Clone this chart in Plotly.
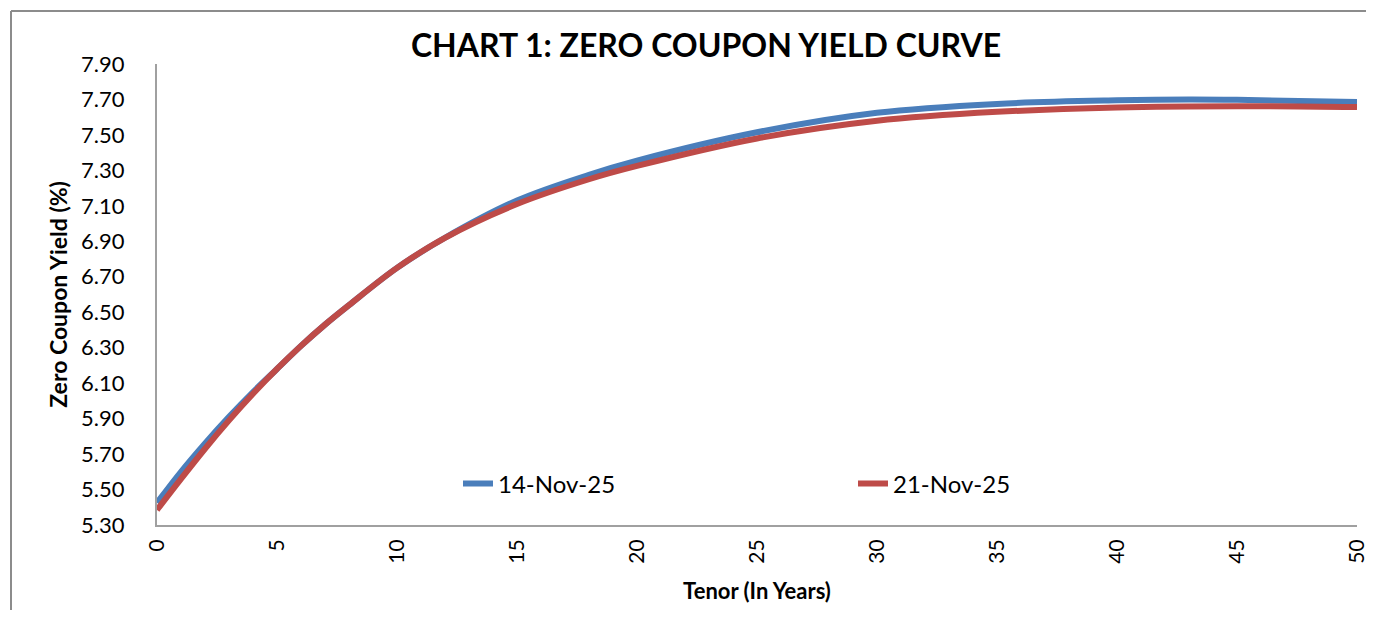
import plotly.graph_objects as go

# Tenor (years)
tenor_blue = [0, 1, 2, 3, 4, 5, 6, 7, 8, 10, 12, 15, 18, 20, 25, 30, 35, 40, 43, 45, 50]
yield_14nov = [5.425, 5.60, 5.76, 5.91, 6.05, 6.18, 6.31, 6.43, 6.54, 6.75, 6.92, 7.13, 7.275, 7.355,
               7.515, 7.625, 7.675, 7.695, 7.70, 7.698, 7.685]

tenor_red = [0, 1, 2, 3, 4, 5, 6, 7, 8, 10, 12, 15, 18, 20, 25, 30, 35, 40, 45, 50]
yield_21nov = [5.385, 5.56, 5.73, 5.89, 6.04, 6.18, 6.31, 6.43, 6.54, 6.75, 6.92, 7.11, 7.25, 7.325,
               7.48, 7.58, 7.63, 7.655, 7.662, 7.657]

series_names = ["14-Nov-25", "21-Nov-25"]
colors = ["#4A7EBB", "#BE4B48"]

x_ticks = list(range(0, 51, 5))
y_ticks = [5.30 + 0.2 * i for i in range(14)]

FONT = "Lato"

fig = go.Figure()
fig.add_trace(go.Scatter(x=tenor_blue, y=yield_14nov, mode="lines", name=series_names[0],
                         line=dict(color=colors[0], width=6, shape="spline", smoothing=1.0)))
fig.add_trace(go.Scatter(x=tenor_red, y=yield_21nov, mode="lines", name=series_names[1],
                         line=dict(color=colors[1], width=6, shape="spline", smoothing=1.0)))

# The page body has an 8px margin on every side; size the figure so it fits the
# 1374x618 window exactly (no scrollbars) and offset positions by 8px.
OFF = 8
W, H = 1374 - 2 * OFF, 618 - 2 * OFF
L, T = 157 - OFF, 64 - OFF
R = W - (1357 - OFF)
B = H - (525 - OFF)
pw, ph = W - L - R, H - T - B

fig.update_layout(
    width=W, height=H,
    margin=dict(l=L, r=R, t=T, b=B, autoexpand=False),
    paper_bgcolor="white", plot_bgcolor="white",
    font=dict(family=FONT, color="black"),
    title=dict(text="<b>CHART 1: ZERO COUPON YIELD CURVE</b>", x=(706 - OFF) / W, xanchor="center",
               y=1 - (46 - OFF) / H, yanchor="middle", font=dict(size=32, family=FONT, color="black")),
    legend=dict(orientation="h", x=(458 - 157) / pw, y=(525 - 484) / ph, xanchor="left", yanchor="middle",
                entrywidth=350, entrywidthmode="pixels", bgcolor="rgba(0,0,0,0)",
                font=dict(size=24, family=FONT, color="black")),
    showlegend=True,
)

fig.update_xaxes(range=[0, 50], tickvals=x_ticks, ticktext=[str(v) for v in x_ticks],
                 tickangle=-90, showgrid=False, zeroline=False, showline=True, automargin=False,
                 linecolor="#A0A0A0", linewidth=2, ticks="", ticklabelstandoff=4,
                 ticklabeloverflow="allow",
                 tickfont=dict(size=21, family=FONT),
                 title=dict(text="<b>Tenor (In Years)</b>", font=dict(size=22, family=FONT), standoff=21))
fig.update_yaxes(range=[5.30, 7.90], tickvals=y_ticks, ticktext=[f"{v:.2f}" for v in y_ticks],
                 showgrid=False, zeroline=False, showline=True, automargin=False,
                 linecolor="#A0A0A0", linewidth=2, ticks="", ticklabelstandoff=26,
                 tickfont=dict(size=22, family=FONT),
                 title=dict(text="<b>Zero Coupon Yield (%)</b>", font=dict(size=23, family=FONT), standoff=7))

# outer chart border: only its left and top edges fall inside the frame
bx = (11 - 157) / pw
by = (525 - 11) / ph
fig.add_shape(type="line", xref="paper", yref="paper", x0=bx, x1=bx, y0=(525 - 660) / ph, y1=by,
              line=dict(color="#8C8C8C", width=2), layer="below")
fig.add_shape(type="line", xref="paper", yref="paper", x0=bx, x1=(1400 - 157) / pw, y0=by, y1=by,
              line=dict(color="#8C8C8C", width=2), layer="below")

fig.write_html("out.html")
